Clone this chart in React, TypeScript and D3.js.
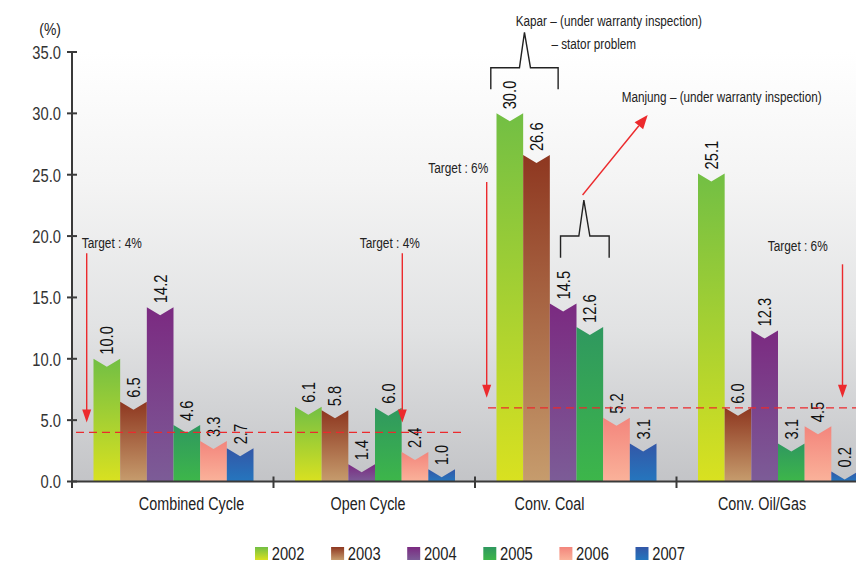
import React from 'react';
import * as d3 from 'd3';

// ---------- data ----------
const categories = ['Combined Cycle', 'Open Cycle', 'Conv. Coal', 'Conv. Oil/Gas'];
const years = ['2002', '2003', '2004', '2005', '2006', '2007'];
const values2002 = [10.0, 6.1, 30.0, 25.1];
const values2003 = [6.5, 5.8, 26.6, 6.0];
const values2004 = [14.2, 1.4, 14.5, 12.3];
const values2005 = [4.6, 6.0, 12.6, 3.1];
const values2006 = [3.3, 2.4, 5.2, 4.5];
const values2007 = [2.7, 1.0, 3.1, 0.2];
const seriesValues = [values2002, values2003, values2004, values2005, values2006, values2007];
const yTicks = [0, 5, 10, 15, 20, 25, 30, 35];
const yearColors = [
  ['#72bf44', '#d9e120'],
  ['#8e3720', '#c69c6d'],
  ['#7b2a81', '#7c5c97'],
  ['#2f985f', '#3db64a'],
  ['#f3857c', '#fab29a'],
  ['#3357a7', '#2576be'],
];
// target lines: value and the categories they span
const targetLines = [
  { value: 4, from: 'Combined Cycle', to: 'Open Cycle', inset: 4, endInset: 13 },
  { value: 6, from: 'Conv. Coal', to: 'Conv. Oil/Gas', inset: 13, endInset: 13 },
];
// target arrows (annotation layout)
const targetNotes = [
  { category: 'Combined Cycle', label: 'Target : 4%', target: 4, dx: 14.7, top: 18.6, anchor: 'start', tdx: -5, tdy: -5 },
  { category: 'Open Cycle', label: 'Target : 4%', target: 4, dx: 128.8, top: 18.6, anchor: 'middle', tdx: -12.5, tdy: -5 },
  { category: 'Conv. Coal', label: 'Target : 6%', target: 6, dx: 11.7, top: 24.4, anchor: 'end', tdx: 1.6, tdy: -9 },
  { category: 'Conv. Oil/Gas', label: 'Target : 6%', target: 6, dx: 166, top: 17.7, anchor: 'end', tdx: -14.7, tdy: -13 },
];
// horizontal nudge of each category caption relative to its bar group (layout)
const captionShift = [18, -7, -27, -16];

const W = 856;
const H = 563;
const FONT = '"Liberation Sans", Arial, sans-serif';
const SX = 0.82; // narrow glyph compression

function NText(props: any) {
  const { x, y, rotate, size, anchor, fill, dy, children } = props;
  const tf = `translate(${x},${y})${rotate ? ` rotate(${rotate})` : ''} scale(${SX},1)`;
  return (
    <text
      transform={tf}
      dy={dy}
      textAnchor={anchor || 'start'}
      fontFamily={FONT}
      fontSize={size}
      fill={fill || '#222'}
    >
      {children}
    </text>
  );
}

export default function App() {
  const x0 = d3.scaleBand<string>().domain(categories).range([72, 878]);
  const x1 = d3.scaleBand<string>().domain(years).range([21.5, 181.5]);
  const y = d3.scaleLinear().domain([0, 35]).range([481.5, 52]);
  const y0 = y(0);
  const bw = x1.bandwidth();

  const bars: any[] = [];
  categories.forEach((c, ci) => {
    years.forEach((yr, yi) => {
      const v = seriesValues[yi][ci];
      const x = (x0(c) as number) + (x1(yr) as number);
      const yt = Math.min(y(v), y0 - 10);
      const notch = Math.min(8, y0 - yt - 2);
      bars.push({ c, yr, yi, v, x, yt, notch });
    });
  });

  const coalX = x0('Conv. Coal') as number;
  // Kapar bracket over Conv. Coal 2002-2003
  const kL = coalX + (x1('2002') as number) - 5.7;
  const kR = coalX + (x1('2003') as number) + bw + 8.3;
  const kM = (kL + kR) / 2;
  const kBottom = y(31.96), kH = y(33.72), kPeak = y(36.6);
  // Manjung bracket over Conv. Coal 2004-2005
  const mL = coalX + (x1('2004') as number) + 10.7;
  const mR = coalX + (x1('2005') as number) + bw + 6;
  const mM = (mL + mR) / 2 - 1;
  const mBottom = y(18.24), mH = y(20.0), mPeak = y(22.93);
  const bracket = (L: number, R: number, M: number, b: number, h: number, p: number) =>
    `M${L},${b}V${h}H${M - 5}L${M},${p}L${M + 6},${h}H${R}V${b}`;
  // Manjung arrow
  const aX1 = mM - 1.3, aY1 = y(23.35);
  const aX2 = coalX + 172.7, aY2 = y(29.87);
  const ang = Math.atan2(aY2 - aY1, aX2 - aX1);
  const headLen = 14, headW = 5.5;
  const hx = aX2 - headLen * Math.cos(ang), hy = aY2 - headLen * Math.sin(ang);
  const px = -Math.sin(ang) * headW, py = Math.cos(ang) * headW;

  const red = '#ec2a2d';

  return (
    <svg width={W} height={H} style={{ position: 'absolute', left: 0, top: 0, background: '#fff' }}>
      <defs>
        <linearGradient id="bg" gradientUnits="userSpaceOnUse" x1="0" y1={52} x2="0" y2={y0}>
          <stop offset="0" stopColor="#ffffff" />
          <stop offset="0.3" stopColor="#f4f4f4" />
          <stop offset="0.65" stopColor="#e1e2e3" />
          <stop offset="1" stopColor="#c3c4c7" />
        </linearGradient>
        {yearColors.map((cc, i) => (
          <linearGradient key={i} id={`g${i}`} x1="0" y1="0" x2="0" y2="1">
            <stop offset="0" stopColor={cc[0]} />
            <stop offset="1" stopColor={cc[1]} />
          </linearGradient>
        ))}
      </defs>

      <rect x={72} y={0} width={W - 72} height={y0} fill="url(#bg)" />

      {/* bars */}
      {bars.map((b, i) => (
        <path
          key={i}
          d={`M${b.x},${y0}V${b.yt}L${b.x + bw / 2},${b.yt + b.notch}L${b.x + bw},${b.yt}V${y0}Z`}
          fill={`url(#g${b.yi})`}
        />
      ))}

      {/* value labels */}
      {bars.map((b, i) => (
        <NText key={i} x={b.x + bw / 2} y={b.yt - 4} rotate={-90} dy="0.36em" size={18} fill="#111">
          {b.v.toFixed(1)}
        </NText>
      ))}

      {/* target dashed lines */}
      {targetLines.map((t, i) => (
        <line
          key={i}
          x1={(x0(t.from) as number) + t.inset}
          x2={Math.min(W, (x0(t.to) as number) + x0.bandwidth() - t.endInset)}
          y1={y(t.value)}
          y2={y(t.value)}
          stroke={red}
          strokeWidth={1.4}
          strokeDasharray="8,5"
        />
      ))}

      {/* target arrows */}
      {targetNotes.map((n, i) => {
        const ax = (x0(n.category) as number) + n.dx;
        const tip = y(n.target) - 10;
        const top = y(n.top);
        return (
          <g key={i}>
            <line x1={ax} x2={ax} y1={top} y2={tip - 11} stroke={red} strokeWidth={1.4} />
            <path d={`M${ax - 4.5},${tip - 13}L${ax + 4.5},${tip - 13}L${ax},${tip}Z`} fill={red} />
            <NText x={ax + n.tdx} y={top + n.tdy} anchor={n.anchor} size={14.5}>
              {n.label}
            </NText>
          </g>
        );
      })}

      {/* brackets and Manjung arrow */}
      <path d={bracket(kL, kR, kM, kBottom, kH, kPeak)} fill="none" stroke="#222" strokeWidth={1.4} />
      <path d={bracket(mL, mR, mM, mBottom, mH, mPeak)} fill="none" stroke="#222" strokeWidth={1.4} />
      <line x1={aX1} y1={aY1} x2={hx} y2={hy} stroke={red} strokeWidth={1.4} />
      <path d={`M${aX2},${aY2}L${hx + px},${hy + py}L${hx - px},${hy - py}Z`} fill={red} />
      <NText x={kM - 8.7} y={kPeak - 6} size={14.3}>
        Kapar – (under warranty inspection)
      </NText>
      <NText x={kM + 27} y={kPeak + 17} size={14.3}>
        – stator problem
      </NText>
      <NText x={aX2 - 26} y={aY2 - 13.3} size={14.3}>
        Manjung – (under warranty inspection)
      </NText>

      {/* y axis */}
      <line x1={72} x2={72} y1={52} y2={y0 + 1} stroke="#3a3a3a" strokeWidth={2} />
      {yTicks.map((t) => (
        <g key={t}>
          <line x1={67} x2={77} y1={y(t)} y2={y(t)} stroke="#3a3a3a" strokeWidth={2} />
          <NText x={61} y={y(t)} dy="0.38em" anchor="end" size={18} fill="#333">
            {t.toFixed(1)}
          </NText>
        </g>
      ))}
      <NText x={61} y={35} anchor="end" size={17}>
        (%)
      </NText>

      {/* x axis */}
      <line x1={71} x2={W} y1={y0} y2={y0} stroke="#3a3a3a" strokeWidth={2} />
      {categories.map((c, i) => {
        const bx = x0(c) as number;
        return (
          <g key={c}>
            <line x1={bx} x2={bx} y1={i === 0 ? y0 : y0 - 5} y2={y0 + 6.5} stroke="#3a3a3a" strokeWidth={2} />
            <NText
              x={bx + (x1('2002') as number) + (bw * years.length) / 2 + captionShift[i]}
              y={510}
              anchor="middle"
              size={17.5}
            >
              {c}
            </NText>
          </g>
        );
      })}

      {/* legend */}
      {years.map((yr, i) => {
        const lx = 255 + i * 76.1;
        return (
          <g key={yr}>
            <rect x={lx} y={547} width={13} height={13} fill={`url(#g${i})`} />
            <NText x={lx + 16.7} y={559.5} size={18}>
              {yr}
            </NText>
          </g>
        );
      })}
    </svg>
  );
}
